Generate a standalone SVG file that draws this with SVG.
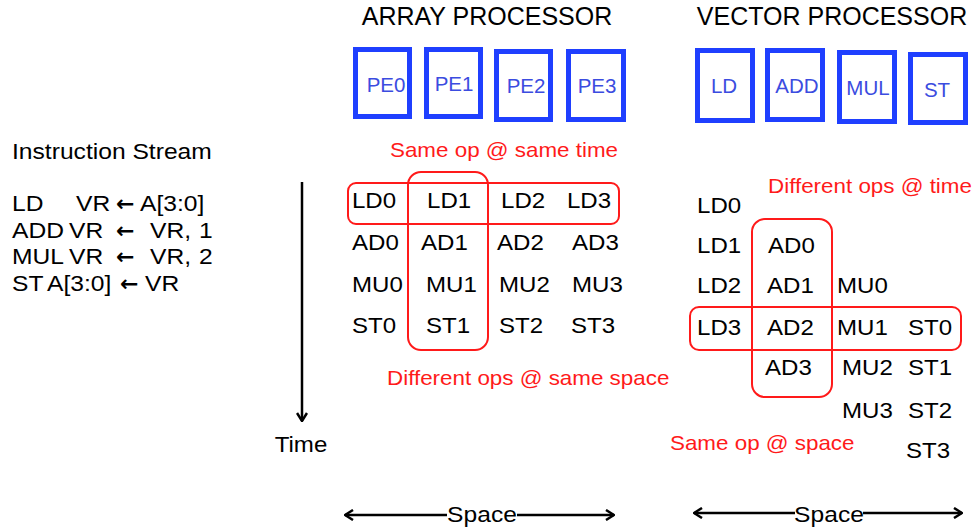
<svg xmlns="http://www.w3.org/2000/svg" width="975" height="528" viewBox="0 0 975 528">
  <style>
    text { font-family: "Liberation Sans", Arial, sans-serif; fill: #000; }
    .sx { transform: scaleX(1.12); transform-box: fill-box; transform-origin: left center; }
    .sxm { transform: scaleX(1.12); transform-box: fill-box; transform-origin: center; text-anchor: middle; }
    .title { font-size: 25px; text-anchor: middle; }
    .unit rect { fill: #fff; stroke: #1f3fff; stroke-width: 5; }
    .unit text { font-size: 20.5px; fill: #3b4ce0; text-anchor: middle; }
    .op text { font-size: 21.5px; }
    .instr text { font-size: 22px; }
    .instr text.arr { font-family: "DejaVu Sans", sans-serif; font-weight: bold; font-size: 22px; }
    .note { font-size: 20px; fill: #ff1a1a; }
    .group { fill: none; stroke: #ff1a1a; stroke-width: 2; }
    .axis { stroke: #000; stroke-width: 2.5; fill: none; }
  </style>
  <defs>
    <marker id="chev" viewBox="0 0 10 12" refX="9" refY="6" markerWidth="10" markerHeight="12" markerUnits="userSpaceOnUse" orient="auto-start-reverse">
      <path d="M1,1 L9,6 L1,11" fill="none" stroke="#000" stroke-width="2.5"/>
    </marker>
  </defs>

  <!-- headings -->
  <text class="title" x="487" y="25">ARRAY PROCESSOR</text>
  <text class="title" x="832" y="25">VECTOR PROCESSOR</text>

  <!-- array processor elements -->
  <g id="pe0" class="unit"><rect x="355.5" y="49.5" width="54" height="67"/><text x="386" y="92">PE0</text></g>
  <g id="pe1" class="unit"><rect x="426.5" y="49.5" width="54" height="67"/><text x="454" y="91">PE1</text></g>
  <g id="pe2" class="unit"><rect x="496.5" y="51.5" width="54" height="68"/><text x="526" y="93">PE2</text></g>
  <g id="pe3" class="unit"><rect x="568.5" y="51.5" width="55" height="68"/><text x="597" y="93">PE3</text></g>

  <!-- vector processor functional units -->
  <g id="fu-ld" class="unit"><rect x="697.5" y="50.5" width="55" height="70"/><text x="724" y="93">LD</text></g>
  <g id="fu-add" class="unit"><rect x="767.5" y="50.5" width="55" height="69"/><text x="797" y="93">ADD</text></g>
  <g id="fu-mul" class="unit"><rect x="839.5" y="52.5" width="55" height="69"/><text x="868" y="95">MUL</text></g>
  <g id="fu-st" class="unit"><rect x="910.5" y="54.5" width="55" height="68"/><text x="937" y="97">ST</text></g>

  <!-- instruction stream -->
  <g id="instructions" class="instr">
    <text class="sx" x="12" y="159">Instruction Stream</text>
    <text class="sx" x="12" y="211">LD</text><text class="sx" x="76" y="211">VR</text><text class="arr" x="116" y="211">←</text><text class="sx" x="140" y="211">A[3:0]</text>
    <text class="sx" x="12" y="238">ADD</text><text class="sx" x="69" y="238">VR</text><text class="arr" x="116" y="238">←</text><text class="sx" x="150" y="238">VR,</text><text class="sx" x="199" y="238">1</text>
    <text class="sx" x="12" y="264">MUL</text><text class="sx" x="69" y="264">VR</text><text class="arr" x="116" y="264">←</text><text class="sx" x="150" y="264">VR,</text><text class="sx" x="199" y="264">2</text>
    <text class="sx" x="12" y="291">ST</text><text class="sx" x="47" y="291">A[3:0]</text><text class="arr" x="120" y="291">←</text><text class="sx" x="145" y="291">VR</text>
  </g>

  <!-- array processor schedule -->
  <g id="array-grid" class="op">
    <text class="sx" x="352" y="208">LD0</text><text class="sx" x="427" y="208">LD1</text><text class="sx" x="501" y="208">LD2</text><text class="sx" x="567" y="208">LD3</text>
    <text class="sx" x="352" y="250">AD0</text><text class="sx" x="421" y="250">AD1</text><text class="sx" x="497" y="250">AD2</text><text class="sx" x="572" y="250">AD3</text>
    <text class="sx" x="352" y="292">MU0</text><text class="sx" x="426" y="292">MU1</text><text class="sx" x="499" y="292">MU2</text><text class="sx" x="572" y="292">MU3</text>
    <text class="sx" x="352" y="333">ST0</text><text class="sx" x="426" y="333">ST1</text><text class="sx" x="499" y="333">ST2</text><text class="sx" x="571" y="333">ST3</text>
  </g>
  <g id="array-groups">
    <rect class="group" x="348" y="183" width="271" height="41" rx="8"/>
    <rect class="group" x="408" y="172" width="80" height="178" rx="13"/>
    <text class="note sx" x="390" y="157">Same op @ same time</text>
    <text class="note sx" x="387" y="385">Different ops @ same space</text>
  </g>

  <!-- vector processor schedule -->
  <g id="vector-grid" class="op">
    <text class="sx" x="697" y="213">LD0</text>
    <text class="sx" x="697" y="253">LD1</text><text class="sx" x="768" y="253">AD0</text>
    <text class="sx" x="697" y="293">LD2</text><text class="sx" x="767" y="293">AD1</text><text class="sx" x="837" y="293">MU0</text>
    <text class="sx" x="697" y="335">LD3</text><text class="sx" x="767" y="335">AD2</text><text class="sx" x="837" y="335">MU1</text><text class="sx" x="908" y="335">ST0</text>
    <text class="sx" x="765" y="375">AD3</text><text class="sx" x="842" y="375">MU2</text><text class="sx" x="908" y="375">ST1</text>
    <text class="sx" x="842" y="418">MU3</text><text class="sx" x="908" y="418">ST2</text>
    <text class="sx" x="906" y="458">ST3</text>
  </g>
  <g id="vector-groups">
    <rect class="group" x="690" y="307" width="271" height="43" rx="9"/>
    <rect class="group" x="752" y="219" width="80" height="178" rx="13"/>
    <text class="note sx" x="768" y="193">Different ops @ time</text>
    <text class="note sx" x="670" y="450">Same op @ space</text>
  </g>

  <!-- axes -->
  <g id="connectors">
    <line class="axis" x1="302" y1="182" x2="302" y2="421" marker-end="url(#chev)"/>
    <line class="axis" x1="345" y1="515" x2="447" y2="515" marker-start="url(#chev)"/>
    <line class="axis" x1="517" y1="515" x2="614" y2="515" marker-end="url(#chev)"/>
    <line class="axis" x1="694" y1="513" x2="795" y2="513" marker-start="url(#chev)"/>
    <line class="axis" x1="863" y1="513" x2="962" y2="513" marker-end="url(#chev)"/>
  </g>
  <g id="axis-labels" class="op">
    <text class="sxm" x="301" y="452">Time</text>
    <text class="sxm" x="482" y="522" style="font-size:22px">Space</text>
    <text class="sxm" x="829" y="522" style="font-size:22px">Space</text>
  </g>
</svg>
